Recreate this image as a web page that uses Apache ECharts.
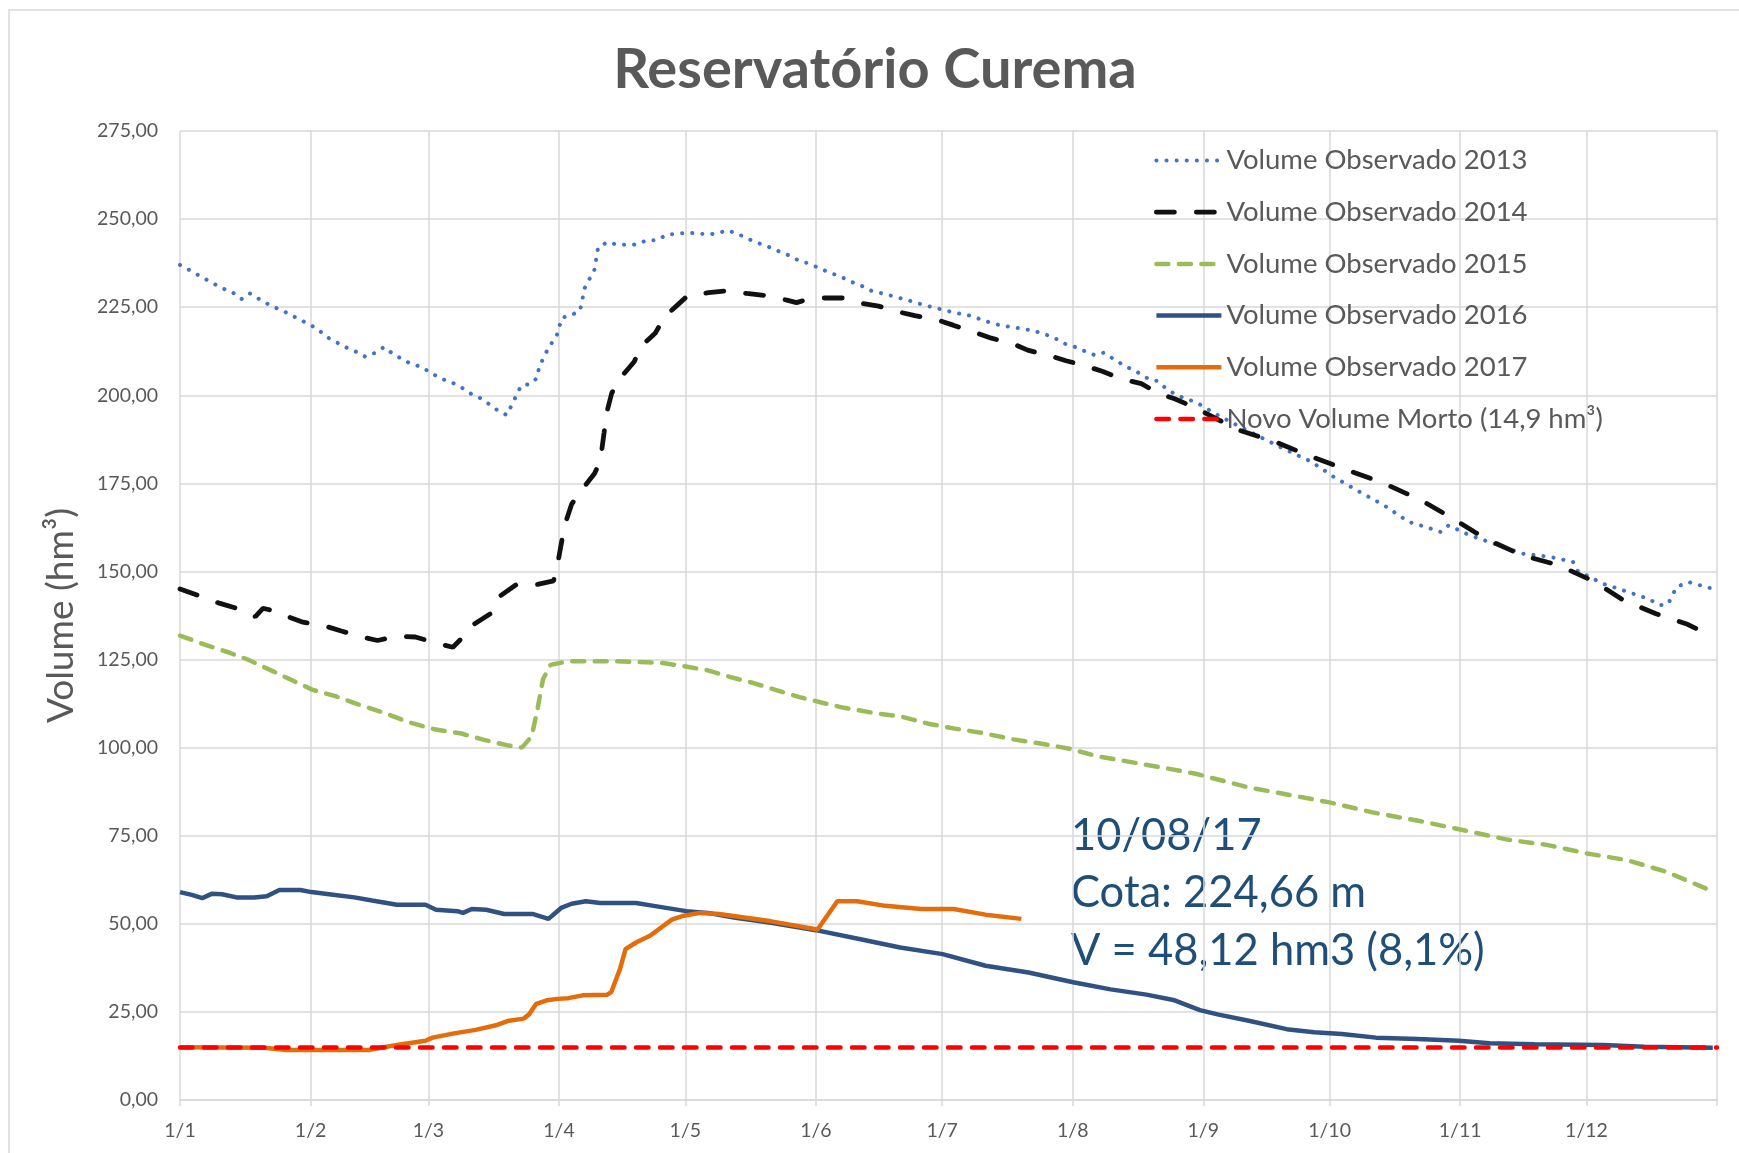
<!DOCTYPE html>
<html>
<head>
<meta charset="utf-8">
<title>Reservatório Curema</title>
<script src="https://cdn.jsdelivr.net/npm/echarts@6/dist/echarts.min.js"></script>
<style>
  html, body { margin: 0; padding: 0; background: #fff; }
  #main { width: 1739px; height: 1153px; }
</style>
</head>
<body>
<div id="main"></div>
<script>
// dia do ano (0 = 1/1) e volume em hm3
var monthDays = [0, 31, 59, 90, 120, 151, 181, 212, 243, 273, 304, 334];
var monthLabels = ['1/1', '1/2', '1/3', '1/4', '1/5', '1/6', '1/7', '1/8', '1/9', '1/10', '1/11', '1/12'];
var yTicks = [0, 25, 50, 75, 100, 125, 150, 175, 200, 225, 250, 275];

var vol2013 = [[0,237],[3,235],[7.5,232],[10,230.4],[12.5,229.2],[14.6,227.3],[16.6,228.9],[18.8,227.3],[21,225.8],[23.3,224.5],[25.6,223.3],[27.9,221.8],[30.6,220.2],[32.8,218.7],[34.6,216.7],[36.9,215.2],[39.2,213.7],[41.9,212.3],[44.1,210.9],[46.4,212.1],[48.5,213.7],[50.5,211.8],[52.7,210.3],[55,208.8],[57.3,208.1],[59.5,206.4],[62,204.7],[64.5,203.7],[66.7,202.3],[69,200.5],[71.3,199.2],[73.5,197.4],[75.8,195.4],[77.6,194.4],[79.9,200],[81,202.7],[83.5,203.3],[84.8,205],[85.3,208.1],[87.6,213.7],[89.4,216.7],[90.7,222],[93,222.8],[95,224],[96.1,230.4],[98.4,235.6],[99.3,242],[101.6,243.5],[103.8,242.7],[106.3,242.7],[108.5,242.8],[110.8,244],[113.3,244],[115.6,245.6],[117.9,245.8],[120.6,246.1],[123.3,245.9],[125.5,245.6],[128,246.1],[129.9,246.8],[132.3,245.9],[135.1,244.3],[137.3,243.2],[139.6,242.2],[142.3,240.8],[144.6,239.7],[147,238.2],[149.6,237.3],[152.1,235.9],[154.6,234.7],[157,233.6],[159.4,232.2],[161.8,231.1],[164.3,229.6],[166.8,228.9],[169.4,228.1],[171.8,227.3],[174.3,226.5],[176.8,225.5],[179.5,224.8],[182,224],[184.5,223.3],[187,222.8],[189.5,221.8],[192.2,220.7],[194.7,219.9],[197.2,219.4],[199.9,218.9],[202.4,218.4],[204.9,217.5],[207.5,216.4],[209.9,214.7],[212.2,213.9],[214.7,212.6],[217.2,211.4],[219.4,212.1],[221.3,210.6],[223.3,209.1],[225.3,207.8],[227.6,206.4],[229.9,204.7],[232.2,204],[234.4,201.7],[236.7,200],[239,199],[241.3,198],[246.4,194.4],[253.1,190.2],[261.8,185],[268.6,181.2],[273.9,176.9],[280.1,172.6],[285.9,168.8],[291.7,164.1],[295.6,162.7],[299.4,161.2],[301.3,163.1],[306.2,160.3],[312,157.9],[318.7,155.1],[325.5,154.1],[330.8,152.7],[331.7,150.3],[338,146.5],[343.8,144.2],[348.6,142.3],[351.5,140.4],[353.4,140.8],[355.4,145.6],[358.2,147],[364,145.1]];

var vol2014 = [[0,145],[4.3,143.2],[9.3,141],[13,139.7],[17.9,137.2],[19.7,139.5],[21,139.2],[25.6,137.2],[29.2,135.6],[34.2,134.6],[38.3,133.1],[43.2,131.4],[46.9,130.4],[51.4,131.6],[55.9,131.4],[60.4,129.8],[64.8,128.5],[67.8,132.1],[69.9,135.1],[74,138.2],[76.2,143.2],[79.9,146.3],[84.8,146.3],[88.7,147.3],[89.8,152.9],[90.7,158.9],[91.6,164],[93,169.1],[95.7,173.6],[98.4,177.7],[99.8,181.2],[100.7,189.3],[101.3,194.9],[102.5,200.5],[104.3,204.5],[107.9,209.6],[109.3,213.7],[112.9,217.7],[115.1,222.3],[118.3,225.8],[120.6,228.3],[125.5,229.1],[129.4,229.6],[134.6,228.9],[139.1,228.3],[144.1,227],[146.4,226.3],[147.8,226.8],[152.3,227.6],[157.3,227.6],[162.3,226],[165.9,225.3],[170.9,223.6],[174.5,222.6],[180,221.3],[183.6,219.9],[188.6,217.9],[192.7,216.2],[197.7,214.7],[201.3,212.8],[206.3,211.3],[210.4,209.8],[214.9,208.4],[219,206.8],[224,204.5],[228.3,203.3],[232.1,200.7],[236.2,199],[241.2,196.4],[251.2,190.2],[259.9,186.9],[268.6,182.6],[277.2,178.8],[285.9,175],[294.6,170.3],[302.3,165],[310,159.3],[318.7,154.6],[327.3,151.8],[336.1,147],[342.8,141.8],[350.5,138],[358,135],[364,131.5]];

var vol2015 = [[0,131.8],[6.2,129.1],[11.6,127],[16.1,125],[21.5,122],[27,118.9],[31.5,116.4],[36.9,114.6],[42.3,112.3],[48.7,109.8],[54.1,107.3],[60.4,105.2],[66.8,104],[72.2,102.2],[77.6,100.7],[81.2,100],[83.5,103.2],[84.8,110.3],[86.2,119.4],[88,123.5],[92,124.5],[97.5,124.5],[103.8,124.5],[109.3,124.3],[114.7,124],[120.1,123],[125.1,122],[130.5,120.1],[136,118.4],[141.4,116.4],[146.9,114.4],[152.3,112.8],[157.7,111.3],[165,109.8],[171.3,108.8],[177.7,106.8],[184,105.4],[190.4,104.2],[197.6,102.4],[203.1,101.4],[211.3,99.7],[217.6,97.6],[224.9,96.1],[232.1,94.6],[241.2,92.6],[253.8,88.7],[264.8,86.3],[273.2,84.4],[283.7,81.5],[294.7,79.1],[304.3,76.7],[315.2,73.9],[324.6,72.4],[334,70],[343.5,68.1],[352.9,64.8],[364,59.2]];

var vol2016 = [[0,59],[2.8,58.2],[5.3,57.3],[7.5,58.5],[10,58.4],[13.4,57.5],[17.6,57.5],[20.6,57.8],[23.6,59.6],[28.6,59.6],[31.2,59],[35.4,58.4],[41.4,57.5],[45.6,56.6],[51.5,55.4],[58.3,55.4],[60.8,54],[65.9,53.6],[67.2,53.1],[69.3,54.2],[72.7,54],[77,52.8],[83.7,52.8],[87.5,51.4],[90.5,54.5],[93,55.7],[96.4,56.4],[99.8,55.9],[108.3,55.9],[112.5,55.1],[120.2,53.6],[125.3,53.1],[131.9,51.7],[140.4,50.3],[151,48.2],[161.6,45.6],[171,43.3],[181.1,41.4],[191.3,38.1],[201.5,36.2],[212.1,33.4],[221,31.4],[229.5,29.9],[236.2,28.3],[242.2,25.5],[246.4,24.3],[253.8,22.5],[262.8,20.1],[269.3,19.2],[275.9,18.7],[284,17.7],[293.9,17.3],[303.7,16.8],[311,16.1],[321.6,15.8],[338,15.6],[347.8,15.1],[364,14.8]];

var vol2017 = [[0,15],[20,14.8],[25.3,14.2],[44.7,14.2],[51.5,15.6],[58.3,16.8],[60,17.7],[65.1,18.9],[70.2,19.9],[75.3,21.3],[77.8,22.4],[81.6,23.1],[82.9,24.3],[84.6,27.3],[87.1,28.3],[89.7,28.7],[92.2,28.9],[95.6,29.7],[101.5,29.9],[102.4,30.6],[104.5,37.2],[105.8,42.8],[108.3,44.7],[111.7,46.7],[116.8,51.2],[119.3,52.2],[123.5,53.1],[128,52.8],[140.4,50.7],[151.4,48.4],[156.1,56.4],[160.8,56.4],[167.5,55.1],[176,54.2],[183.7,54.2],[191.3,52.6],[199.8,51.4]];

var volMorto = [[0,14.9],[365,14.9]];

var seriesNames = ['Volume Observado 2013', 'Volume Observado 2014', 'Volume Observado 2015',
  'Volume Observado 2016', 'Volume Observado 2017', 'Novo Volume Morto (14,9 hm³)'];
var notaTexto = ['10/08/17', 'Cota: 224,66 m', 'V = 48,12 hm3 (8,1%)'];

var chart = echarts.init(document.getElementById('main'));

function serie(name, data, color, width, type, cap) {
  return {
    name: name,
    type: 'line',
    data: data,
    symbol: 'none',
    smooth: false,
    lineStyle: { color: color, width: width, type: type, cap: cap || 'butt' },
    itemStyle: { color: color }
  };
}

chart.setOption({
  animation: false,
  backgroundColor: '#ffffff',
  textStyle: { fontFamily: 'Lato' },
  title: {
    text: 'Reservatório Curema',
    left: 870,
    textAlign: 'center',
    top: 37,
    textStyle: { fontFamily: 'Lato', fontWeight: 'bold', fontSize: 56, color: '#595959' }
  },
  legend: {
    orient: 'vertical',
    left: 1149,
    top: 140.5,
    itemWidth: 65,
    itemHeight: 30,
    itemGap: 21.7,
    itemStyle: { opacity: 0 },
    lineStyle: { width: 'inherit', type: 'inherit', cap: 'inherit' },
    data: seriesNames,
    textStyle: { fontFamily: 'Lato', fontSize: 27.5, color: '#595959', lineHeight: 30 }
  },
  grid: { left: 180, right: 22, top: 131, bottom: 53 },
  xAxis: {
    type: 'value',
    min: 0,
    max: 365,
    axisLine: { show: true, onZero: false, lineStyle: { color: '#D9D9D9', width: 1.5 } },
    axisTick: { show: true, length: 6, customValues: monthDays.concat([365]), lineStyle: { color: '#D9D9D9', width: 1.5 } },
    axisLabel: {
      customValues: monthDays,
      margin: 21,
      fontFamily: 'Lato',
      fontSize: 19.5,
      color: '#595959',
      formatter: function (v) {
        var i = monthDays.indexOf(Math.round(v));
        return i >= 0 ? monthLabels[i] : '';
      }
    },
    splitLine: { show: true, lineStyle: { color: '#D9D9D9', width: 1.5 } }
  },
  yAxis: {
    type: 'value',
    min: 0,
    max: 275,
    interval: 25,
    name: 'Volume (hm³)',
    nameLocation: 'middle',
    nameGap: 100,
    nameTextStyle: { fontFamily: 'Lato', fontSize: 37, color: '#595959' },
    axisLine: { show: false },
    axisTick: { show: false },
    axisLabel: {
      margin: 22,
      fontFamily: 'Lato',
      fontSize: 19.5,
      color: '#595959',
      formatter: function (v) { return v.toFixed(2).replace('.', ','); }
    },
    splitLine: { show: true, lineStyle: { color: '#D9D9D9', width: 1.5 } }
  },
  graphic: [
    {
      type: 'rect',
      shape: { x: 9, y: 10, width: 1760, height: 1180 },
      style: { fill: 'none', stroke: '#D9D9D9', lineWidth: 1.5 },
      silent: true
    },
    {
      type: 'text',
      x: 1071,
      y: 807,
      style: {
        text: notaTexto.join('\n'),
        font: '43.5px Lato',
        fill: '#1F4E79',
        lineHeight: 57.5,
        verticalAlign: 'top'
      },
      silent: true
    }
  ],
  series: [
    serie(seriesNames[0], vol2013, '#4472C4', 4, [0.1, 10], 'round'),
    serie(seriesNames[1], vol2014, '#111111', 4.8, [18, 22], 'round'),
    serie(seriesNames[2], vol2015, '#9BBB59', 4.5, [12, 10.5], 'round'),
    serie(seriesNames[3], vol2016, '#2F5282', 4.5, 'solid'),
    serie(seriesNames[4], vol2017, '#E46C0A', 4.5, 'solid'),
    serie(seriesNames[5], volMorto, '#FF0000', 4.5, [12.5, 11.5], 'round')
  ]
});
</script>
</body>
</html>
